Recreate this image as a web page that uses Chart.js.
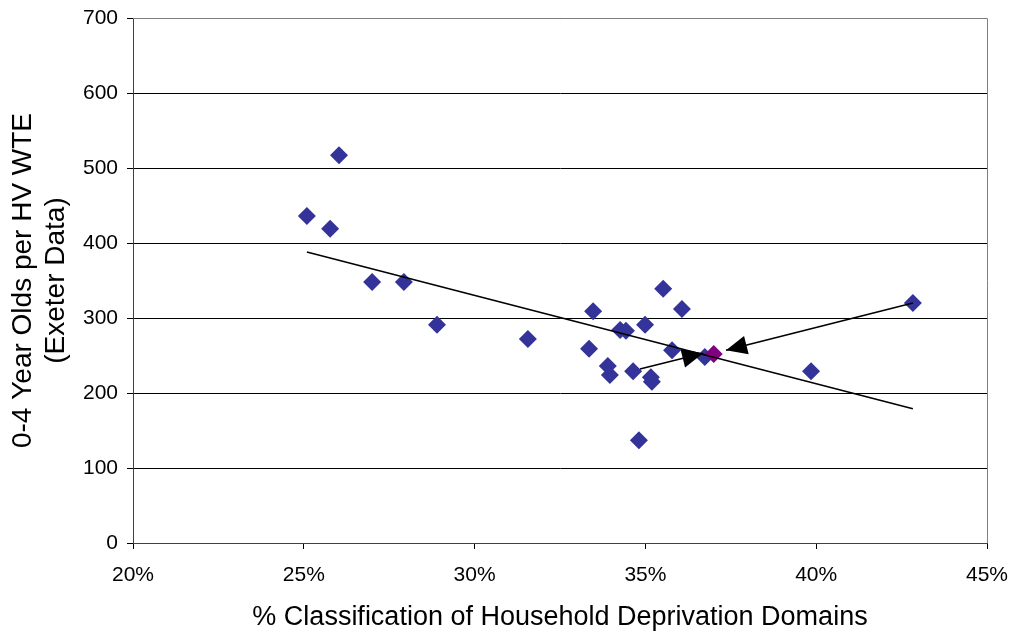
<!DOCTYPE html>
<html>
<head>
<meta charset="utf-8">
<script src="https://cdn.jsdelivr.net/npm/chart.js@4"></script>
<style>
  html, body { margin: 0; padding: 0; background: #fff; }
  #wrap { width: 1014px; height: 636px; }
</style>
</head>
<body>
<div id="wrap"><canvas id="chart" width="1014" height="636"></canvas></div>
<script>
// % deprivation (x) against 0-4 year olds per HV WTE (y)
const deprivation = [25.09, 25.77, 26.03, 27.0, 27.93, 28.9, 31.56, 33.47, 33.35, 33.9, 33.96, 34.26, 34.43, 34.64, 34.81, 34.99, 35.16, 35.19, 35.52, 35.78, 36.07, 36.74, 39.85, 42.83];
const childrenPerHV = [436, 419, 517, 348, 348, 291, 272, 309, 259, 236, 224, 284, 283, 229, 137, 291, 221, 215, 339, 257, 312, 248, 229, 320];

// the highlighted (purple) point
const highlightX = [37.0];
const highlightY = [252];

// trend line end points
const trendX = [25.09, 42.83];
const trendY = [388, 179];

// arrows: [start, tip]
const arrow1X = [42.83, 37.36];
const arrow1Y = [320, 257];
const arrow2X = [34.84, 36.69];
const arrow2Y = [232, 253];

const xTicks = [20, 25, 30, 35, 40, 45];
const yTicks = [0, 100, 200, 300, 400, 500, 600, 700];

function toPoints(xs, ys) {
    return xs.map((x, i) => ({ x: x, y: ys[i] }))
}

// arrowheads are filled triangles at the tip of each arrow
const arrowHeads = {
    id: 'arrowHeads',
    afterDatasetsDraw(chart) {
        const ctx = chart.ctx;
        const xs = chart.scales.x, ys = chart.scales.y;
        [[arrow1X, arrow1Y], [arrow2X, arrow2Y]].forEach(a => {
            const x0 = xs.getPixelForValue(a[0][0]), y0 = ys.getPixelForValue(a[1][0]);
            const x1 = xs.getPixelForValue(a[0][1]), y1 = ys.getPixelForValue(a[1][1]);
            const ang = Math.atan2(y1 - y0, x1 - x0);
            const len = 21, half = 9.5;
            ctx.save();
            ctx.fillStyle = '#000';
            ctx.beginPath();
            ctx.moveTo(x1, y1);
            ctx.lineTo(x1 - len * Math.cos(ang) + half * Math.sin(ang), y1 - len * Math.sin(ang) - half * Math.cos(ang));
            ctx.lineTo(x1 - len * Math.cos(ang) - half * Math.sin(ang), y1 - len * Math.sin(ang) + half * Math.cos(ang));
            ctx.closePath();
            ctx.fill();
            ctx.restore();
        })
    }
};

// grey plot area border (top and right)
const plotBorder = {
    id: 'plotBorder',
    beforeDatasetsDraw(chart) {
        const a = chart.chartArea, ctx = chart.ctx;
        ctx.save();
        ctx.strokeStyle = '#808080';
        ctx.lineWidth = 1;
        ctx.beginPath();
        ctx.moveTo(a.left, a.top + 0.5);
        ctx.lineTo(a.right + 0.5, a.top + 0.5);
        ctx.lineTo(a.right + 0.5, a.bottom);
        ctx.stroke();
        ctx.restore();
    }
};

// keep the plot area fixed, labels may overflow into the margins
function noLabelPadding(s) {
    s.paddingLeft = 0;
    s.paddingRight = 0;
    s.paddingTop = 0;
    s.paddingBottom = 0;
}

const font = 'Liberation Sans, Arial, sans-serif';

new Chart(document.querySelector('#chart').getContext('2d'), {
    type: 'scatter',
    data: {
        datasets: [
            {
                data: toPoints(arrow1X, arrow1Y),
                showLine: true,
                borderColor: '#000',
                borderWidth: 1.6,
                pointRadius: 0
            },
            {
                data: toPoints(arrow2X, arrow2Y),
                showLine: true,
                borderColor: '#000',
                borderWidth: 1.6,
                pointRadius: 0
            },
            {
                data: toPoints(trendX, trendY),
                showLine: true,
                borderColor: '#000',
                borderWidth: 1.6,
                pointRadius: 0
            },
            {
                data: toPoints(highlightX, highlightY),
                pointStyle: 'rectRot',
                pointRadius: 9,
                pointBackgroundColor: '#800080',
                pointBorderColor: '#800080',
                pointBorderWidth: 0
            },
            {
                data: toPoints(deprivation, childrenPerHV),
                pointStyle: 'rectRot',
                pointRadius: 9,
                pointBackgroundColor: '#333399',
                pointBorderColor: '#333399',
                pointBorderWidth: 0
            }
        ]
    },
    options: {
        responsive: false,
        animation: false,
        layout: { padding: { left: 6, right: 27, top: 18, bottom: 2 } },
        plugins: {
            legend: { display: false },
            tooltip: { enabled: false }
        },
        scales: {
            x: {
                type: 'linear',
                min: 20,
                max: 45,
                afterBuildTicks: s => { s.ticks = xTicks.map(v => ({ value: v })) },
                ticks: {
                    callback: v => v + '%',
                    color: '#000',
                    font: { family: font, size: 21 },
                    padding: 14,
                    maxRotation: 0
                },
                grid: { drawOnChartArea: false, color: '#000', tickLength: 6 },
                border: { color: '#404040', width: 1 },
                title: {
                    display: true,
                    text: '% Classification of Household Deprivation Domains',
                    color: '#000',
                    font: { family: font, size: 27 },
                    padding: { top: 4, bottom: 0 }
                },
                afterFit: s => { s.height = 636 - 2 - 543; noLabelPadding(s) }
            },
            y: {
                min: 0,
                max: 700,
                afterBuildTicks: s => { s.ticks = yTicks.map(v => ({ value: v })) },
                ticks: {
                    color: '#000',
                    font: { family: font, size: 21 },
                    padding: 9
                },
                grid: { color: '#000', tickLength: 6 },
                border: { color: '#404040', width: 1 },
                title: {
                    display: true,
                    text: ['0-4 Year Olds per HV WTE', '(Exeter Data)'],
                    color: '#000',
                    font: { family: font, size: 28, lineHeight: 1.2 },
                    padding: { top: 0, bottom: 0 }
                },
                afterFit: s => { s.width = 133 - 6; noLabelPadding(s) }
            }
        }
    },
    plugins: [plotBorder, arrowHeads]
});
</script>
</body>
</html>
